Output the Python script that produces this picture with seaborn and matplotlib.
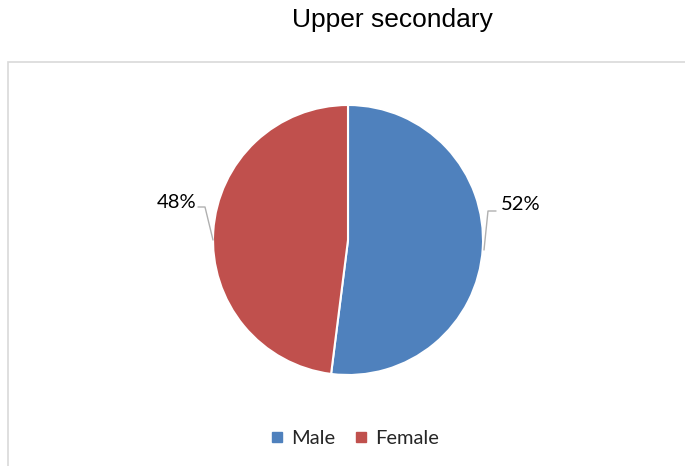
import matplotlib
matplotlib.use("Agg")
import matplotlib.pyplot as plt
from matplotlib.lines import Line2D
from matplotlib.patches import Rectangle
import seaborn as sns

# datos del grafico
categorias = ["Male", "Female"]
valores = [52, 48]
etiquetas = ["52%", "48%"]
titulo = "Upper secondary"

sns.set_theme(style="white")
plt.rcParams['font.family'] = ['Lato', 'DejaVu Sans']
colores = sns.color_palette(["#4F81BD", "#C0504D"])

W, H = 685, 466
fig = plt.figure(figsize=(W / 100, H / 100), dpi=100)

# marco gris claro
fig.patches.append(Rectangle((8 / W, -0.1), 1.2, 1.1 - 62 / H, transform=fig.transFigure,
                             fill=False, edgecolor="#D9D9D9", linewidth=1.2))

fig.text(392 / W, 1 - 20 / H, titulo, ha="center", va="center", fontsize=19,
         family="Liberation Sans", color="black")

# ejes del pastel: centro (348,240), radio 135 px
r = 135
ax = fig.add_axes([(348 - r) / W, (H - 240 - r) / H, 2 * r / W, 2 * r / H])
wedges, _ = ax.pie(valores, colors=colores, startangle=90, counterclock=False,
                   wedgeprops=dict(edgecolor="white", linewidth=1.5))
ax.set_xlim(-1, 1)
ax.set_ylim(-1, 1)
ax.set_aspect("equal")
ax.axis("off")

# etiquetas con lineas guia
def px(x, y):
    return ((x - 348) / r, (240 - y) / r)

guias = [
    [(484, 250), (488, 211), (496, 211)],
    [(213, 240), (205, 207), (198, 207)],
]
textos = [((501, 205), "left"), ((196, 202), "right")]
for g, (pos, ha), lab in zip(guias, textos, etiquetas):
    xs, ys = zip(*[px(*p) for p in g])
    ax.plot(xs, ys, color="#B0B0B0", linewidth=1, clip_on=False)
    tx, ty = px(*pos)
    ax.text(tx, ty, lab, ha=ha, va="center", fontsize=14.5, color="black", clip_on=False)

handles = [Line2D([], [], marker="s", linestyle="", markersize=7, color=c) for c in colores]
fig.legend(handles, categorias, loc="center", bbox_to_anchor=(353 / W, 1 - 438 / H),
           ncol=2, frameon=False, fontsize=14.5, handletextpad=0.2, columnspacing=0.8,
           handlelength=1.0)

fig.savefig("out.png", dpi=100)
